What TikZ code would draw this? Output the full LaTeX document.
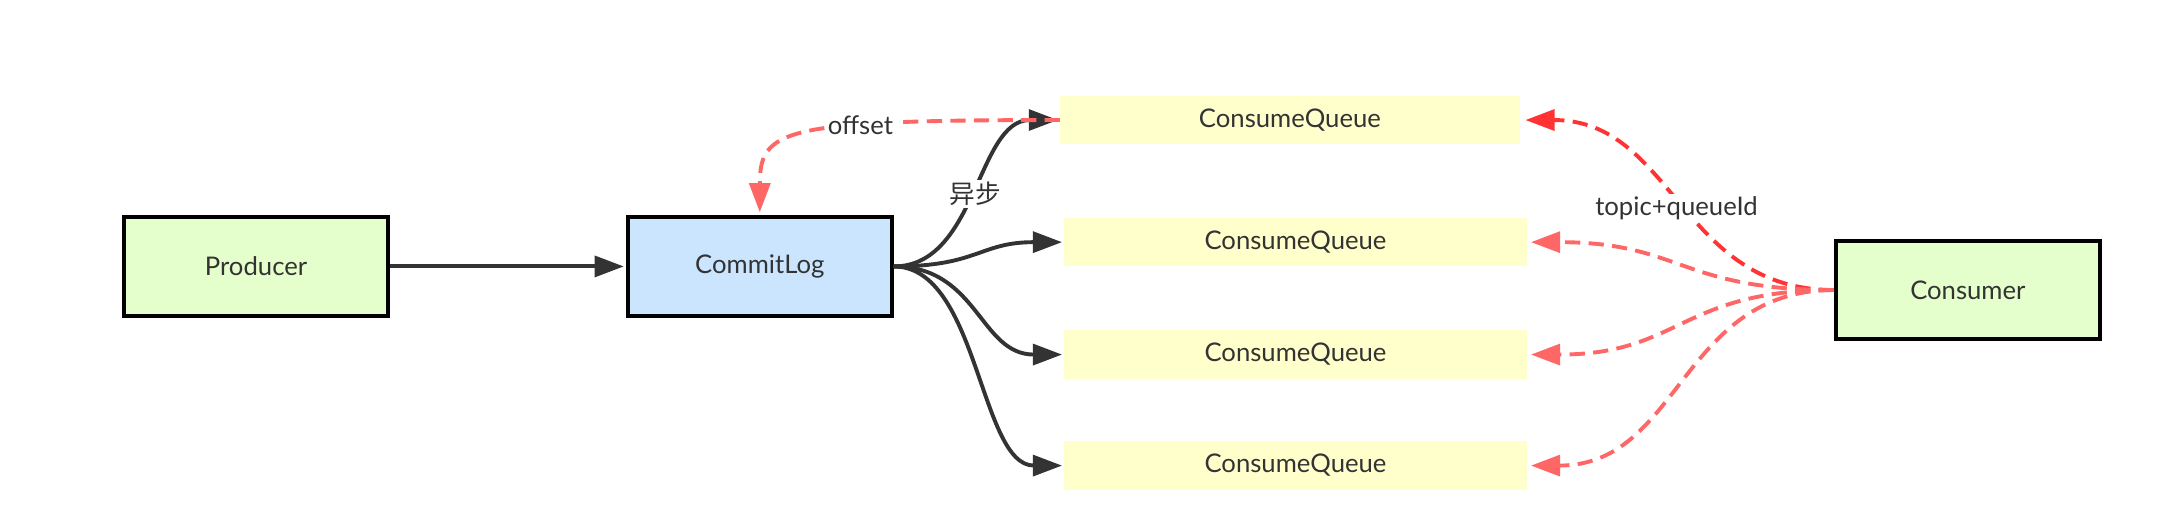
\documentclass[tikz,border=0pt]{standalone}
\usepackage{fontspec}
\setmainfont{Lato}
\newfontfamily\cjk{Noto Sans CJK SC}
\usetikzlibrary{arrows.meta,calc}
\definecolor{ink}{HTML}{333333}
\definecolor{boxgreen}{HTML}{E5FFCC}
\definecolor{boxblue}{HTML}{CCE5FF}
\definecolor{qyellow}{HTML}{FFFFCC}
\definecolor{softred}{HTML}{FF6666}
\definecolor{hotred}{HTML}{FF3333}
\tikzset{
  mainbox/.style={draw=black, line width=3pt, minimum width=190pt, minimum height=71pt, inner sep=0pt, text=ink},
  qbox/.style={fill=qyellow, draw=none, minimum height=35pt, inner sep=0pt, text=ink},
  blk/.style={draw=ink, line width=2.8pt, -{Triangle[length=21pt,width=15pt]}, shorten >=1.5pt},
  rdash/.style={draw=softred, line width=2.8pt, dash pattern=on 11pt off 6pt, -{Triangle[length=21pt,width=15pt]}, shorten >=3pt},
  lbl/.style={fill=white, inner sep=1.5pt, text=ink}
}
\begin{document}
\begin{tikzpicture}[x=1pt,y=1pt,font=\fontsize{18.5}{22}\selectfont]
\fill[white] (0,0) rectangle (1568,382);
\useasboundingbox (0,0) rectangle (1568,382);

\node[mainbox, fill=boxgreen] (prod) at (184.5,190) {Producer};
\node[mainbox, fill=boxblue] (cl) at (547.5,190) {CommitLog};
\node[qbox, minimum width=331pt] (q1) at (929.5,295.5) {ConsumeQueue};
\node[qbox, minimum width=333pt] (q2) at (933.5,207.5) {ConsumeQueue};
\node[qbox, minimum width=333pt] (q3) at (933.5,126.5) {ConsumeQueue};
\node[qbox, minimum width=333pt] (q4) at (933.5,46.5) {ConsumeQueue};
\node[mainbox, fill=boxgreen] (cons) at (1418,173) {Consumer};

\draw[blk] (prod) -- (cl);
\draw[blk] (cl.east) .. controls +(60,0) and +(-60,0) .. (q1.west);
\draw[blk] (cl.east) .. controls +(61,0) and +(-61,0) .. (q2.west);
\draw[blk] (cl.east) .. controls +(61,0) and +(-61,0) .. (q3.west);
\draw[blk] (cl.east) .. controls +(61,0) and +(-61,0) .. (q4.west);

\draw[rdash, shorten >=2pt] (q1.west) .. controls +(-200,0) and +(0,62) .. (cl.north);

\draw[rdash, draw=hotred, shorten >=4pt] (cons.west) .. controls +(-111,0) and +(111,0) .. (q1.east);
\draw[rdash] (cons.west) .. controls +(-111,0) and +(111,0) .. (q2.east);
\draw[rdash] (cons.west) .. controls +(-111,0) and +(111,0) .. (q3.east);
\draw[rdash] (cons.west) .. controls +(-111,0) and +(111,0) .. (q4.east);

\node[lbl] (offl) at (620,292) {offset};
\node[lbl] (asyn) at (703,242) {\cjk 异步};
\node[lbl] (tq) at (1208,232) {topic+queueId};
\end{tikzpicture}
\end{document}
